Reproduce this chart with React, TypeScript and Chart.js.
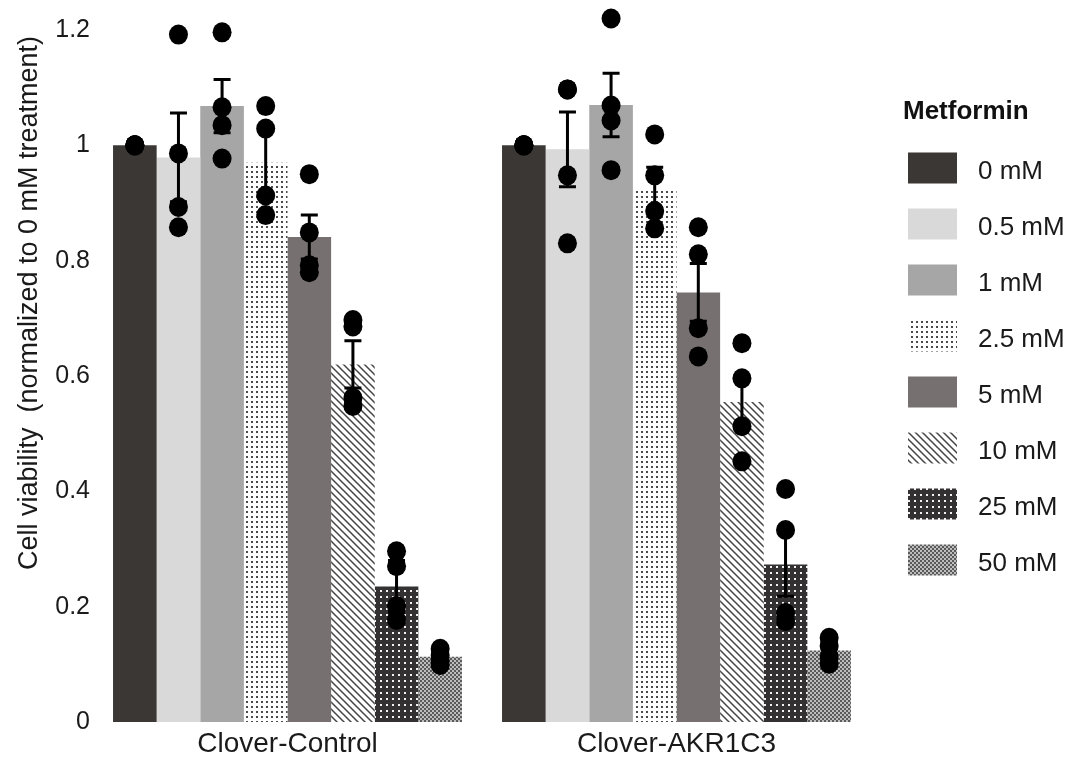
import React, { useEffect, useRef } from "react";
import { Chart, registerables } from "chart.js";

Chart.register(...registerables);

// Cell lines on the x axis and metformin doses (one bar series per dose)
const groupLabels = ["Clover-Control", "Clover-AKR1C3"];
const doseLabels = ["0 mM", "0.5 mM", "1 mM", "2.5 mM", "5 mM", "10 mM", "25 mM", "50 mM"];

// Mean viability per dose (order of doseLabels)
const controlMeans = [1.0, 0.979, 1.068, 0.97, 0.841, 0.62, 0.235, 0.113];
const akrMeans = [1.0, 0.993, 1.07, 0.924, 0.745, 0.555, 0.273, 0.124];

// Standard error per dose
const controlErr = [0, 0.077, 0.046, 0.055, 0.038, 0.041, 0.045, 0.008];
const akrErr = [0, 0.065, 0.055, 0.038, 0.05, 0.045, 0.055, 0.011];

// Individual replicates per dose
const controlPoints = [
  [1, 1, 1, 1],
  [1.192, 0.986, 0.893, 0.858],
  [1.196, 1.066, 1.035, 0.977],
  [1.068, 1.029, 0.913, 0.879],
  [0.95, 0.849, 0.792, 0.78],
  [0.697, 0.686, 0.562, 0.548],
  [0.296, 0.27, 0.201, 0.177],
  [0.127, 0.116, 0.106, 0.099],
];
const akrPoints = [
  [1, 1, 1, 1],
  [1.097, 1.097, 0.948, 0.83],
  [1.22, 1.069, 1.043, 0.957],
  [1.019, 0.948, 0.886, 0.856],
  [0.858, 0.811, 0.683, 0.634],
  [0.657, 0.596, 0.513, 0.452],
  [0.404, 0.333, 0.189, 0.175],
  [0.146, 0.132, 0.113, 0.101],
];

const yTicks = [0, 0.2, 0.4, 0.6, 0.8, 1, 1.2];

const FONT = "'Liberation Sans', Arial, Helvetica, sans-serif";

function makePattern(size: number, draw: (ctx: CanvasRenderingContext2D) => void) {
  const c = document.createElement("canvas");
  c.width = size;
  c.height = size;
  const ctx = c.getContext("2d")!;
  draw(ctx);
  return ctx.createPattern(c, "repeat") as CanvasPattern;
}

function buildFills() {
  const dots = makePattern(5, (ctx) => {
    ctx.fillStyle = "#ffffff";
    ctx.fillRect(0, 0, 5, 5);
    ctx.fillStyle = "#4a4a4a";
    ctx.fillRect(1, 1, 2, 2);
  });
  const diagonal = makePattern(7, (ctx) => {
    ctx.fillStyle = "#ffffff";
    ctx.fillRect(0, 0, 7, 7);
    ctx.strokeStyle = "#444444";
    ctx.lineWidth = 1.5;
    ctx.beginPath();
    ctx.moveTo(-2, -2);
    ctx.lineTo(9, 9);
    ctx.moveTo(-2, 5);
    ctx.lineTo(2, 9);
    ctx.moveTo(5, -2);
    ctx.lineTo(9, 2);
    ctx.stroke();
  });
  const darkDots = makePattern(6, (ctx) => {
    ctx.fillStyle = "#333131";
    ctx.fillRect(0, 0, 6, 6);
    ctx.fillStyle = "#f2f2f2";
    ctx.fillRect(2, 2, 2, 2);
  });
  const checker = makePattern(4, (ctx) => {
    ctx.fillStyle = "#bdbdbd";
    ctx.fillRect(0, 0, 4, 4);
    ctx.fillStyle = "#5a5a5a";
    ctx.fillRect(0, 0, 2, 2);
    ctx.fillRect(2, 2, 2, 2);
  });
  return ["#3b3735", "#d9d9d9", "#a6a6a6", dots, "#767070", diagonal, darkDots, checker];
}

// Error bars and replicate dots on top of each bar
const overlayPlugin = {
  id: "errorDots",
  afterDatasetsDraw(chart: any) {
    const ctx = chart.ctx;
    const y = chart.scales.y;
    const means = [controlMeans, akrMeans];
    const errs = [controlErr, akrErr];
    const pts = [controlPoints, akrPoints];
    ctx.save();
    doseLabels.forEach((_, d) => {
      const meta = chart.getDatasetMeta(d);
      meta.data.forEach((bar: any, g: number) => {
        const x = bar.x;
        const m = means[g][d];
        const e = errs[g][d];
        ctx.strokeStyle = "#000";
        ctx.lineWidth = 3;
        if (e > 0) {
          const yt = y.getPixelForValue(m + e);
          const yb = y.getPixelForValue(m - e);
          ctx.beginPath();
          ctx.moveTo(x, yt);
          ctx.lineTo(x, yb);
          ctx.moveTo(x - 8.5, yt);
          ctx.lineTo(x + 8.5, yt);
          ctx.moveTo(x - 8.5, yb);
          ctx.lineTo(x + 8.5, yb);
          ctx.stroke();
        }
        ctx.fillStyle = "#000";
        pts[g][d].forEach((v: number) => {
          ctx.beginPath();
          ctx.ellipse(x, y.getPixelForValue(v), 9.5, 10, 0, 0, Math.PI * 2);
          ctx.fill();
        });
      });
    });
    ctx.restore();
  },
};

// Y axis title and the dose legend at the right
const decorPlugin = {
  id: "decor",
  afterDraw(chart: any) {
    const ctx = chart.ctx;
    ctx.save();
    ctx.fillStyle = "#1a1a1a";
    ctx.font = `27px ${FONT}`;
    ctx.textAlign = "center";
    ctx.textBaseline = "middle";
    ctx.translate(30, 303);
    ctx.rotate(-Math.PI / 2);
    ctx.fillText("Cell viability  (normalized to 0 mM treatment)", 0, 0);
    ctx.restore();

    ctx.save();
    ctx.fillStyle = "#111";
    ctx.font = `bold 26px ${FONT}`;
    ctx.textAlign = "left";
    ctx.textBaseline = "middle";
    ctx.fillText("Metformin", 903, 112);
    ctx.font = `26px ${FONT}`;
    doseLabels.forEach((label, i) => {
      const cy = 168 + i * 56;
      ctx.fillStyle = chart.data.datasets[i].backgroundColor;
      ctx.fillRect(908, cy - 15.5, 49, 31);
      ctx.fillStyle = "#1a1a1a";
      ctx.fillText(label, 978, cy + 4);
    });
    ctx.restore();
  },
};

export default function App() {
  const ref = useRef<HTMLCanvasElement>(null);

  useEffect(() => {
    const fills = buildFills();
    const chart = new Chart(ref.current!, {
      type: "bar",
      data: {
        labels: groupLabels,
        datasets: doseLabels.map((label, d) => ({
          label,
          data: [controlMeans[d], akrMeans[d]],
          backgroundColor: fills[d] as any,
          borderWidth: 0,
          categoryPercentage: 0.897,
          barPercentage: 1,
        })),
      },
      options: {
        responsive: false,
        animation: false,
        layout: { padding: { left: 0, right: 199, top: 30, bottom: 0 } },
        plugins: {
          legend: { display: false },
          tooltip: { enabled: false },
        },
        scales: {
          x: {
            grid: { display: false, drawTicks: false },
            border: { display: false },
            ticks: { color: "#1a1a1a", font: { family: FONT, size: 28 }, padding: 5 },
            afterFit: (s: any) => {
              s.height = 43;
            },
          },
          y: {
            min: 0,
            max: 1.2,
            afterBuildTicks: (s: any) => {
              s.ticks = yTicks.map((v) => ({ value: v }));
            },
            grid: { display: false, drawTicks: false },
            border: { display: false },
            ticks: {
              color: "#1a1a1a",
              font: { family: FONT, size: 25 },
              padding: 3,
              callback: (v: any) => String(Math.round(Number(v) * 10) / 10),
            },
            afterFit: (s: any) => {
              s.width = 93;
            },
          },
        },
      },
      plugins: [overlayPlugin, decorPlugin],
    });
    return () => chart.destroy();
  }, []);

  return (
    <div style={{ position: "absolute", left: 0, top: 0, width: 1070, height: 765, background: "#fff" }}>
      <canvas ref={ref} width={1070} height={765} style={{ display: "block" }} />
    </div>
  );
}
